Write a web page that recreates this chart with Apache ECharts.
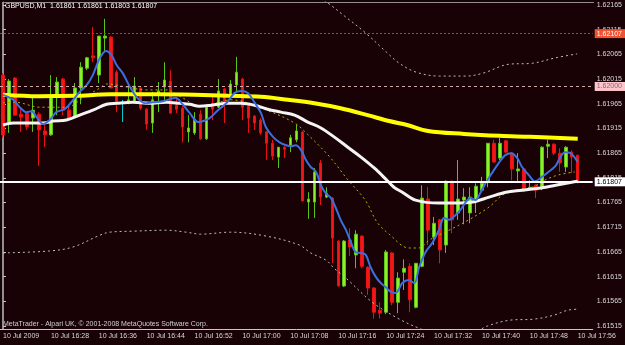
<!DOCTYPE html>
<html>
<head>
<meta charset="utf-8">
<script src="https://cdn.jsdelivr.net/npm/echarts@6/dist/echarts.min.js"></script>
<style>
html,body{margin:0;padding:0;background:#180206;}
#chart{width:625px;height:345px;}
</style>
</head>
<body>
<div id="chart"></div>
<script>
// one-minute bars from 16:20, each [open, close, low, high]
var candles = [
  [1.62023,1.61902,1.61896,1.62027],[1.61928,1.62011,1.61906,1.62015],[1.62017,1.61942,1.61940,1.62019],
  [1.61944,1.61938,1.61908,1.61958],[1.61946,1.61918,1.61912,1.61948],[1.61936,1.61952,1.61908,1.61979],
  [1.61944,1.61912,1.61839,1.61948],[1.61910,1.61902,1.61877,1.61928],[1.61902,1.61977,1.61900,1.62023],
  [1.61979,1.62009,1.61942,1.62019],[1.62015,1.61952,1.61942,1.62017],[1.61952,1.61936,1.61936,1.61958],
  [1.61940,1.61997,1.61938,1.62007],[1.61997,1.62039,1.61964,1.62049],[1.62037,1.62058,1.62033,1.62060],
  [1.62062,1.62058,1.62049,1.62120],[1.62023,1.62102,1.62007,1.62102],[1.62098,1.62102,1.62070,1.62137],
  [1.62100,1.61997,1.61997,1.62102],[1.62029,1.61970,1.61948,1.62033],[1.61968,1.61968,1.61928,1.61973],
  [1.61968,1.61973,1.61964,1.62003],[1.61970,1.62001,1.61968,1.62019],[1.61997,1.61956,1.61952,1.62001],
  [1.61954,1.61924,1.61912,1.61956],[1.61926,1.61973,1.61906,1.61989],[1.61987,1.61991,1.61948,1.62009],
  [1.61999,1.62013,1.61973,1.62049],[1.62011,1.61946,1.61946,1.62033],[1.61962,1.61954,1.61946,1.61979],
  [1.61956,1.61918,1.61887,1.61960],[1.61908,1.61916,1.61887,1.61942],[1.61906,1.61934,1.61902,1.61948],
  [1.61944,1.61894,1.61892,1.61952],[1.61894,1.61958,1.61892,1.61958],[1.61960,1.61954,1.61932,1.61979],
  [1.61958,1.61991,1.61956,1.62015],[1.61995,1.61966,1.61926,1.61997],[1.61977,1.62005,1.61973,1.62013],
  [1.62003,1.62029,1.61987,1.62060],[1.62015,1.61958,1.61932,1.62017],[1.61960,1.61936,1.61906,1.61964],
  [1.61940,1.61926,1.61912,1.61942],[1.61932,1.61906,1.61902,1.61936],[1.61908,1.61885,1.61851,1.61910],
  [1.61885,1.61859,1.61851,1.61892],[1.61857,1.61877,1.61835,1.61877],[1.61877,1.61873,1.61855,1.61879],
  [1.61881,1.61896,1.61867,1.61902],[1.61892,1.61910,1.61887,1.61922],[1.61908,1.61768,1.61768,1.61910],
  [1.61766,1.61772,1.61732,1.61786],[1.61766,1.61827,1.61734,1.61835],[1.61845,1.61776,1.61760,1.61851],
  [1.61776,1.61784,1.61774,1.61796],[1.61774,1.61693,1.61642,1.61776],[1.61687,1.61596,1.61596,1.61689],
  [1.61596,1.61687,1.61594,1.61689],[1.61689,1.61675,1.61657,1.61713],[1.61659,1.61701,1.61632,1.61709],
  [1.61697,1.61636,1.61632,1.61699],[1.61634,1.61592,1.61578,1.61636],[1.61592,1.61543,1.61530,1.61594],
  [1.61547,1.61541,1.61530,1.61563],[1.61543,1.61665,1.61539,1.61669],[1.61663,1.61563,1.61557,1.61665],
  [1.61563,1.61612,1.61541,1.61624],[1.61624,1.61632,1.61588,1.61650],[1.61636,1.61568,1.61543,1.61642],
  [1.61553,1.61642,1.61551,1.61642],[1.61636,1.61774,1.61634,1.61800],[1.61772,1.61709,1.61679,1.61796],
  [1.61695,1.61723,1.61679,1.61736],[1.61730,1.61669,1.61642,1.61732],[1.61679,1.61808,1.61663,1.61810],
  [1.61808,1.61730,1.61703,1.61810],[1.61744,1.61772,1.61730,1.61851],[1.61770,1.61776,1.61721,1.61794],
  [1.61744,1.61776,1.61723,1.61796],[1.61770,1.61798,1.61744,1.61804],[1.61790,1.61804,1.61786,1.61817],
  [1.61806,1.61885,1.61796,1.61885],[1.61885,1.61847,1.61845,1.61892],[1.61855,1.61885,1.61851,1.61896],
  [1.61890,1.61867,1.61865,1.61892],[1.61865,1.61833,1.61810,1.61867],[1.61829,1.61833,1.61808,1.61865],
  [1.61833,1.61792,1.61786,1.61835],[1.61792,1.61796,1.61790,1.61810],[1.61800,1.61790,1.61774,1.61802],
  [1.61794,1.61877,1.61790,1.61879],[1.61879,1.61883,1.61855,1.61892],[1.61883,1.61865,1.61861,1.61885],
  [1.61865,1.61845,1.61827,1.61875],[1.61837,1.61877,1.61827,1.61879],[1.61867,1.61857,1.61825,1.61871],
  [1.61861,1.61807,1.61803,1.61861]
];

var timeTicks = ['10 Jul 2009','10 Jul 16:28','10 Jul 16:36','10 Jul 16:44','10 Jul 16:52','10 Jul 17:00',
  '10 Jul 17:08','10 Jul 17:16','10 Jul 17:24','10 Jul 17:32','10 Jul 17:40','10 Jul 17:48','10 Jul 17:56'];
var priceTicks = [1.61515,1.61565,1.61615,1.61665,1.61715,1.61765,1.61815,1.61865,1.61915,1.61965,
  1.62015,1.62065,1.62115,1.62165];

// indicator lines, [bar position, price]
var fastMa = [[0,1.61983],[1.7,1.61973],[2.8,1.61958],[3.9,1.61948],[4.8,1.61950],[5.6,1.61938],[6.7,1.61924],
  [7.8,1.61932],[8.9,1.61948],[10.3,1.61954],[11.4,1.61968],[12.8,1.61989],[14,1.62003],[15,1.62023],
  [16.2,1.62058],[17.2,1.62072],[18.1,1.62064],[19,1.62043],[20,1.62027],[21.2,1.61999],[22.3,1.61979],
  [23.7,1.61966],[25,1.61968],[26.7,1.61970],[28.8,1.61977],[30,1.61964],[31.2,1.61946],[32.6,1.61928],
  [34.5,1.61936],[35.9,1.61952],[37.3,1.61966],[38.7,1.61987],[39.8,1.61991],[40.9,1.61987],[42,1.61968],
  [43.1,1.61946],[43.9,1.61918],[45.1,1.61898],[46.2,1.61887],[47.3,1.61881],[48.1,1.61879],[48.9,1.61881],
  [49.8,1.61871],[50.6,1.61851],[51.4,1.61837],[52.3,1.61827],[53.1,1.61800],[53.9,1.61784],[54.8,1.61774],
  [55.6,1.61754],[56.4,1.61730],[57.3,1.61709],[58.1,1.61685],[58.9,1.61665],[59.8,1.61663],[60.6,1.61659],
  [61.4,1.61634],[62.3,1.61614],[63.1,1.61602],[63.9,1.61594],[64.8,1.61584],[65.6,1.61582],[66.7,1.61602],
  [67.8,1.61608],[68.7,1.61602],[69.5,1.61634],[70.6,1.61665],[71.7,1.61683],[72.8,1.61709],[73.7,1.61734],
  [74.5,1.61730],[75.6,1.61740],[76.4,1.61750],[77.3,1.61766],[78.1,1.61774],[78.9,1.61770],[79.8,1.61786],
  [80.6,1.61804],[81.7,1.61825],[82.8,1.61845],[83.9,1.61861],[84.9,1.61865],[85.9,1.61855],[86.7,1.61837],
  [87.8,1.61821],[88.9,1.61808],[90,1.61817],[91.1,1.61827],[92.3,1.61839],[93.1,1.61857],[93.9,1.61867],
  [94.8,1.61865],[96,1.61847]];
var midMa = [[0,1.61922],[1.7,1.61926],[6.7,1.61926],[8.4,1.61930],[10.6,1.61932],[12.8,1.61942],[15,1.61952],
  [17.3,1.61964],[19,1.61966],[21.7,1.61968],[24.5,1.61966],[27.3,1.61968],[29.5,1.61966],[31.2,1.61964],
  [32.8,1.61960],[34.8,1.61962],[37.6,1.61966],[39.8,1.61966],[42,1.61962],[44.2,1.61954],[46.4,1.61948],
  [48.7,1.61942],[50.9,1.61928],[53.1,1.61916],[55.3,1.61898],[57.6,1.61877],[59.8,1.61857],[62,1.61835],
  [63.9,1.61813],[65.3,1.61796],[66.7,1.61786],[68.9,1.61770],[72.8,1.61764],[75.6,1.61764],[78.4,1.61766],
  [81.2,1.61776],[84,1.61786],[86.7,1.61790],[89.5,1.61794],[92.3,1.61800],[95,1.61806],[96,1.61808]];
var slowMa = [[0,1.61983],[6,1.61980],[12,1.61981],[18,1.61984],[26,1.61984],[32,1.61983],[37.6,1.61981],
  [43.1,1.61979],[47.6,1.61973],[52,1.61966],[56.4,1.61956],[60.9,1.61942],[64.5,1.61930],[67.5,1.61922],
  [71,1.61910],[77,1.61904],[83,1.61900],[88,1.61898],[96,1.61894]];
var dotMa = [[0,1.61967],[2,1.61968],[6.2,1.61958],[10.6,1.61958],[13.4,1.61977],[16.2,1.61997],[17.3,1.62005],
  [20.6,1.61999],[24,1.61993],[27.3,1.61993],[30,1.61977],[32.8,1.61960],[35.5,1.61966],[38.1,1.61973],
  [44,1.61952],[48.7,1.61926],[50.8,1.61904],[54.6,1.61857],[57.6,1.61811],[60.5,1.61770],[62.5,1.61725],
  [64.5,1.61701],[67.8,1.61673],[69.5,1.61673],[71.2,1.61689],[74.5,1.61709],[77.8,1.61730],[81.2,1.61756],
  [83.4,1.61780],[85.6,1.61790],[88.4,1.61796],[90.6,1.61811],[92.8,1.61821],[95.5,1.61827]];
var upperBand = [[50,1.62199],[54,1.62171],[57,1.62143],[60.6,1.62108],[64,1.62070],[66.2,1.62047],
  [69,1.62029],[72.9,1.62021],[77.3,1.62021],[80.2,1.62027],[84.5,1.62045],[88.4,1.62047],[92.3,1.62058],
  [95.9,1.62066]];
var lowerBand = [[0,1.61663],[7.8,1.61667],[11.7,1.61675],[16.2,1.61699],[17.8,1.61705],[21.7,1.61707],
  [27.3,1.61709],[30.6,1.61705],[33,1.61701],[38,1.61705],[44,1.61697],[49.5,1.61679],[51.4,1.61663],
  [54,1.61648],[55.3,1.61632],[57.3,1.61612],[61.7,1.61563],[66.2,1.61529],[69.8,1.61509],[74,1.61491],
  [78,1.61497],[80.9,1.61515],[84.8,1.61527],[88.7,1.61529],[92,1.61537],[94.3,1.61547],[96,1.61549]];

// horizontal levels: resistance, round number, current bid
var levelPrices = [1.62107, 1.62000, 1.61807];

var categories = [];
for (var k = 0; k < 99; k++) {
  var mins = 16 * 60 + 20 + k;
  categories.push(Math.floor(mins / 60) + ':' + ('0' + mins % 60).slice(-2));
}

var font = 'Liberation Sans';
var chart = echarts.init(document.getElementById('chart'));

function indicator(data, color, width, dash) {
  return {
    type: 'line', xAxisIndex: 1, data: data, symbol: 'none', smooth: 0.35,
    lineStyle: { color: color, width: width, type: dash || 'solid' },
    silent: true
  };
}

function level(price, line, bg, fg, dash, width) {
  return {
    type: 'line', xAxisIndex: 1, data: [], silent: true,
    markLine: {
      silent: true, symbol: ['none', 'none'], animation: false, precision: 5,
      lineStyle: { color: line, type: dash, width: width },
      label: {
        show: true, position: 'end', distance: 2, formatter: price.toFixed(5),
        backgroundColor: bg, color: fg, fontSize: 7, fontFamily: font,
        padding: [1, 4, 0, 2], lineHeight: 8
      },
      data: [{ yAxis: price }]
    }
  };
}

var option = {
  backgroundColor: '#180206',
  animation: false,
  title: {
    text: 'GBPUSD,M1  1.61861 1.61861 1.61803 1.61807',
    left: 5, top: 3, padding: 0,
    textStyle: { color: '#ffffff', fontSize: 7, fontWeight: 'normal', fontFamily: font }
  },
  grid: { left: 0, right: 31, top: 2, bottom: 16 },
  xAxis: [
    {
      type: 'category', data: categories, boundaryGap: true,
      axisLine: { lineStyle: { color: '#c8c8c8' } },
      axisTick: { alignWithLabel: true, interval: 7, length: 4, lineStyle: { color: '#c8c8c8' } },
      axisLabel: {
        interval: 7, align: 'left', margin: 4, color: '#d8d8d8', fontSize: 7, fontFamily: font,
        formatter: function (v, i) { return timeTicks[i / 8]; }
      },
      splitLine: { show: false }
    },
    { type: 'value', min: -0.5, max: 98.5, show: false }
  ],
  yAxis: {
    type: 'value', position: 'right', min: 1.61509, max: 1.62171, scale: true,
    axisLine: { show: true, lineStyle: { color: '#909090' } },
    axisTick: { show: true, length: 3, customValues: priceTicks, lineStyle: { color: '#c8c8c8' } },
    axisLabel: {
      customValues: priceTicks, margin: 4, color: '#d8d8d8', fontSize: 7, fontFamily: font,
      formatter: function (v) { return v.toFixed(5); }
    },
    splitLine: { show: false }
  },
  graphic: [
    { type: 'line', shape: { x1: 2.5, y1: 2, x2: 2.5, y2: 329 }, style: { stroke: '#909090', lineWidth: 1 } },
    { type: 'line', shape: { x1: 2, y1: 2.5, x2: 594, y2: 2.5 }, style: { stroke: '#909090', lineWidth: 1 } },
    {
      type: 'text', left: 3, top: 321,
      style: {
        text: 'MetaTrader - Alpari UK, \u00a9 2001-2008 MetaQuotes Software Corp.',
        fill: '#d0d0d0', fontSize: 7, fontFamily: font
      }
    }
  ],
  series: [
    level(levelPrices[0], '#b8402c', '#f05232', '#ffffff', [2, 2], 1),
    level(levelPrices[1], '#d0a8a8', '#ffc4cc', '#806a70', [3, 3], 1),
    {
      type: 'candlestick', data: candles, barWidth: 3,
      itemStyle: {
        color: '#8ef02a', borderColor: '#5cc414',
        color0: '#f01818', borderColor0: '#e81010',
        borderColorDoji: '#00c8c8', borderWidth: 1
      }
    },
    indicator(lowerBand, '#bcbcbc', 1, [2, 3]),
    indicator(upperBand, '#bcbcbc', 1, [2, 3]),
    indicator(dotMa, '#b4b400', 1, [2, 3]),
    indicator(slowMa, '#ffff00', 4),
    indicator(midMa, '#f4f4f4', 3),
    indicator(fastMa, '#3c6ee0', 2),
    level(levelPrices[2], '#ffffff', '#ffffff', '#000000', 'solid', 2)
  ]
};

chart.setOption(option);
</script>
</body>
</html>
